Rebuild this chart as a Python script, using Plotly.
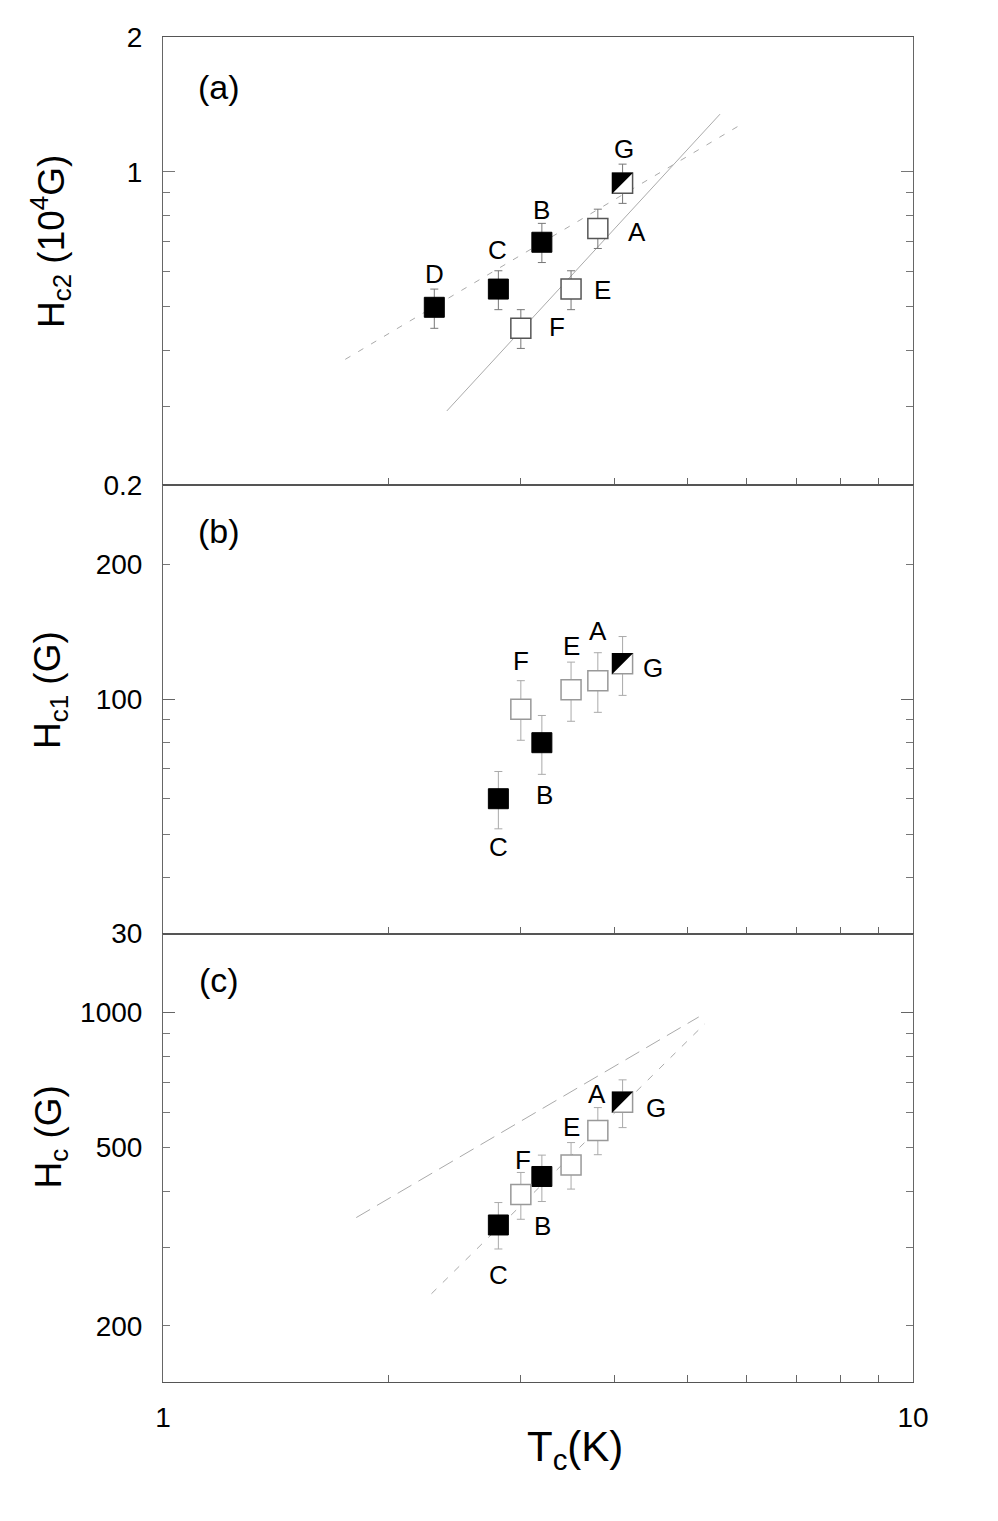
import numpy as np
import plotly.graph_objects as go
from plotly.subplots import make_subplots

# ---------------- data ----------------
# panel (a): upper critical field Hc2 (10^4 G)
samples_a = ["A", "B", "C", "D", "E", "F", "G"]
tc_a = [3.8, 3.2, 2.8, 2.3, 3.5, 3.0, 4.1]
hc2 = [0.748, 0.697, 0.548, 0.499, 0.548, 0.448, 0.944]
hc2_hi = [0.826, 0.768, 0.602, 0.548, 0.602, 0.493, 1.041]
hc2_lo = [0.675, 0.628, 0.493, 0.448, 0.493, 0.404, 0.851]
kind_a = ["open", "filled", "filled", "filled", "open", "open", "half"]

# panel (b): lower critical field Hc1 (G)
samples_b = ["A", "B", "C", "E", "F", "G"]
tc_b = [3.8, 3.2, 2.8, 3.5, 3.0, 4.1]
hc1 = [110, 80, 60, 105, 95, 120]
hc1_hi = [127, 92, 69, 121, 110, 138]
hc1_lo = [93.5, 68, 51.4, 89.3, 81, 102]
kind_b = ["open", "filled", "filled", "open", "open", "half"]

# panel (c): thermodynamic critical field Hc (G)
samples_c = ["A", "B", "C", "E", "F", "G"]
tc_c = [3.8, 3.2, 2.8, 3.5, 3.0, 4.1]
hc = [546, 431, 336, 457, 393, 631]
hc_hi = [614, 481, 377, 513, 440, 708]
hc_lo = [482, 379, 297, 404, 346, 554]
kind_c = ["open", "filled", "filled", "open", "open", "half"]

# guide lines (end points)
a_dash_tc = [1.75, 5.95]
a_dash_h = [0.382, 1.287]
a_solid_tc = [2.39, 5.53]
a_solid_h = [0.293, 1.346]
c_long_tc = [1.81, 5.18]
c_long_h = [349, 978]
c_short_tc = [2.28, 5.28]
c_short_h = [236, 945]

# axis tick labels
x_ticks = [1, 10]
y_ticks_a = [0.2, 1, 2]
y_ticks_b = [30, 100, 200]
y_ticks_c = [200, 500, 1000]
y_long_b = [100]
y_long_c = [1000]
y_minor_a = [0.3, 0.4, 0.5, 0.6, 0.7, 0.8, 0.9]
y_minor_b = [40, 50, 60, 70, 80, 90]
y_minor_c = [300, 400, 600, 700, 800, 900]
x_minor = [2, 3, 4, 5, 6, 7, 8, 9]

# ---------------- styling ----------------
FONT = "Liberation Sans, Arial, Helvetica, sans-serif"
W, H = 998, 1521
ML, MR, MT, MB = 163, 85, 37, 139
PW = W - ML - MR
PH = H - MT - MB
ROW_H = PH / 3.0
SQ = 20

# label offsets in px (dx right, dy down)
lab_a = {"A": (39, 3), "B": (0, -32), "C": (-1, -39), "D": (0, -33),
         "E": (31, 1), "F": (36, -1), "G": (1, -34)}
lab_b = {"A": (0, -50), "B": (3, 52), "C": (0, 48), "E": (0, -44),
         "F": (0, -48), "G": (30, 4)}
lab_c = {"A": (-1, -36), "B": (1, 50), "C": (0, 50), "E": (0, -38),
         "F": (2, -34), "G": (33, 6)}

fig = make_subplots(rows=3, cols=1, shared_xaxes=True, vertical_spacing=0)


def add_panel(row, samples, tc, h, hi, lo, kinds, labels, outline, errc):
    tc = np.array(tc, float)
    h = np.array(h, float)
    hi = np.array(hi, float)
    lo = np.array(lo, float)
    kinds = np.array(kinds)
    for kind in ["filled", "open", "half"]:
        m = kinds == kind
        if not m.any():
            continue
        if kind == "filled":
            mk = dict(symbol="square", size=SQ, color="black",
                      line=dict(color="black", width=1))
        else:
            mk = dict(symbol="square", size=SQ, color="white",
                      line=dict(color=outline, width=1.5))
        fig.add_trace(go.Scatter(
            x=tc[m], y=h[m], mode="markers", marker=mk, showlegend=False,
            error_y=dict(type="data", symmetric=False,
                         array=hi[m] - h[m], arrayminus=h[m] - lo[m],
                         color=errc, thickness=1, width=4)),
            row=row, col=1)
        if kind == "half":
            full = SQ + 1.5           # leg length of the black half
            shift = full / 6.0        # corner-to-centroid offset of a right triangle
            fig.add_trace(go.Scatter(
                x=tc[m] * 10 ** (-shift / PW),
                y=h[m] * 10 ** (shift / ROW_H),
                mode="markers", showlegend=False,
                marker=dict(symbol="triangle-nw", size=full / 0.9,
                            color="black", line=dict(width=0))),
                row=row, col=1)
    xref = "x" if row == 1 else "x%d" % row
    yref = "y" if row == 1 else "y%d" % row
    for s, t, v in zip(samples, tc, h):
        dx, dy = labels[s]
        fig.add_annotation(x=np.log10(t), y=np.log10(v), xref=xref, yref=yref,
                           text=s, showarrow=False, xshift=dx, yshift=-dy,
                           xanchor="center", yanchor="middle",
                           font=dict(family=FONT, size=26, color="black"))


# guide lines (drawn first so markers sit on top)
fig.add_trace(go.Scatter(x=a_dash_tc, y=a_dash_h, mode="lines", showlegend=False,
                         line=dict(color="#aaaaaa", width=1, dash="6px,9px")), row=1, col=1)
fig.add_trace(go.Scatter(x=a_solid_tc, y=a_solid_h, mode="lines", showlegend=False,
                         line=dict(color="#aaaaaa", width=1)), row=1, col=1)
fig.add_trace(go.Scatter(x=c_long_tc, y=c_long_h, mode="lines", showlegend=False,
                         line=dict(color="#aaaaaa", width=1, dash="16px,8px")), row=3, col=1)
fig.add_trace(go.Scatter(x=c_short_tc, y=c_short_h, mode="lines", showlegend=False,
                         line=dict(color="#aaaaaa", width=1, dash="7px,9px")), row=3, col=1)

add_panel(1, samples_a, tc_a, hc2, hc2_hi, hc2_lo, kind_a, lab_a, "#555555", "#777777")
add_panel(2, samples_b, tc_b, hc1, hc1_hi, hc1_lo, kind_b, lab_b, "#999999", "#aaaaaa")
add_panel(3, samples_c, tc_c, hc, hc_hi, hc_lo, kind_c, lab_c, "#999999", "#aaaaaa")

tickfont = dict(family=FONT, size=28, color="black")
for r in (1, 2, 3):
    fig.update_xaxes(type="log", range=[0, 1], showline=True, linecolor="#555555",
                     linewidth=1, mirror=True, ticks="inside", ticklen=0,
                     tickvals=x_ticks, ticktext=[str(v) for v in x_ticks],
                     showgrid=False, zeroline=False, tickfont=tickfont,
                     ticklabelstandoff=10,
                     minor=dict(tickvals=x_minor, ticks="inside", ticklen=7,
                                tickcolor="#666666", showgrid=False),
                     row=r, col=1)

rng_a = [np.log10(0.2), np.log10(2)]
rng_b = [np.log10(30), np.log10(300)]
rng_c = [np.log10(150), np.log10(1500)]
yspecs = [(1, y_ticks_a, y_minor_a, rng_a, ["0.2", "1", "2"], 12),
          (2, y_ticks_b, y_minor_b, rng_b, ["30", "100", "200"], 7),
          (3, y_ticks_c, y_minor_c, rng_c, ["200", "500", "1000"], 7)]
for r, tv, mv, rng, tt, tl in yspecs:
    fig.update_yaxes(type="log", range=rng, showline=True, linecolor="#666666",
                     linewidth=1, mirror="ticks", ticks="inside", ticklen=tl,
                     tickcolor="#777777", tickvals=tv, ticktext=tt,
                     showgrid=False, zeroline=False, tickfont=tickfont,
                     ticklabelstandoff=14,
                     minor=dict(tickvals=mv, ticks="inside", ticklen=7,
                                tickcolor="#777777", showgrid=False),
                     row=r, col=1)

# overlay axes carrying only the long decade ticks of panels (b) and (c)
for newy, base, xa, rng, lv in [("y4", "y2", "x2", rng_b, y_long_b),
                                ("y5", "y3", "x3", rng_c, y_long_c)]:
    fig.add_trace(go.Scatter(x=[None], y=[None], xaxis=xa, yaxis=newy,
                             mode="markers", showlegend=False, hoverinfo="skip"))
    fig.layout["yaxis" + newy[1:]] = dict(
        type="log", range=rng, overlaying=base, anchor=xa, side="left",
        tickvals=lv, ticks="inside", ticklen=12, tickcolor="#666666",
        mirror="ticks", showline=False, showticklabels=False,
        showgrid=False, zeroline=False)

# panel letters
for txt, ypx in [("(a)", 86.7), ("(b)", 531), ("(c)", 980)]:
    fig.add_annotation(x=(218.5 - ML) / PW, y=(H - MB - ypx) / PH,
                       xref="paper", yref="paper", text=txt, showarrow=False,
                       xanchor="center", yanchor="middle",
                       font=dict(family=FONT, size=34, color="black"))

# axis titles
ytitles = [("H<sub>c2</sub> (10<sup>4</sup>G)", 242),
           ("H<sub>c1</sub> (G)", 690),
           ("H<sub>c</sub> (G)", 1137.5)]
for txt, ypx in ytitles:
    fig.add_annotation(x=(50 - ML) / PW, y=(H - MB - ypx) / PH, xref="paper", yref="paper",
                       text=txt, showarrow=False, textangle=-90,
                       xanchor="center", yanchor="middle",
                       font=dict(family=FONT, size=37, color="black"))
fig.add_annotation(x=(574.5 - ML) / PW, y=(H - MB - 1450) / PH, xref="paper", yref="paper",
                   text="T<sub>c</sub>(K)", showarrow=False,
                   xanchor="center", yanchor="middle",
                   font=dict(family=FONT, size=42, color="black"))

fig.update_layout(width=W, height=H, margin=dict(l=ML, r=MR, t=MT, b=MB),
                  plot_bgcolor="white", paper_bgcolor="white",
                  font=dict(family=FONT, color="black"), showlegend=False)

fig.write_html("out.html")
